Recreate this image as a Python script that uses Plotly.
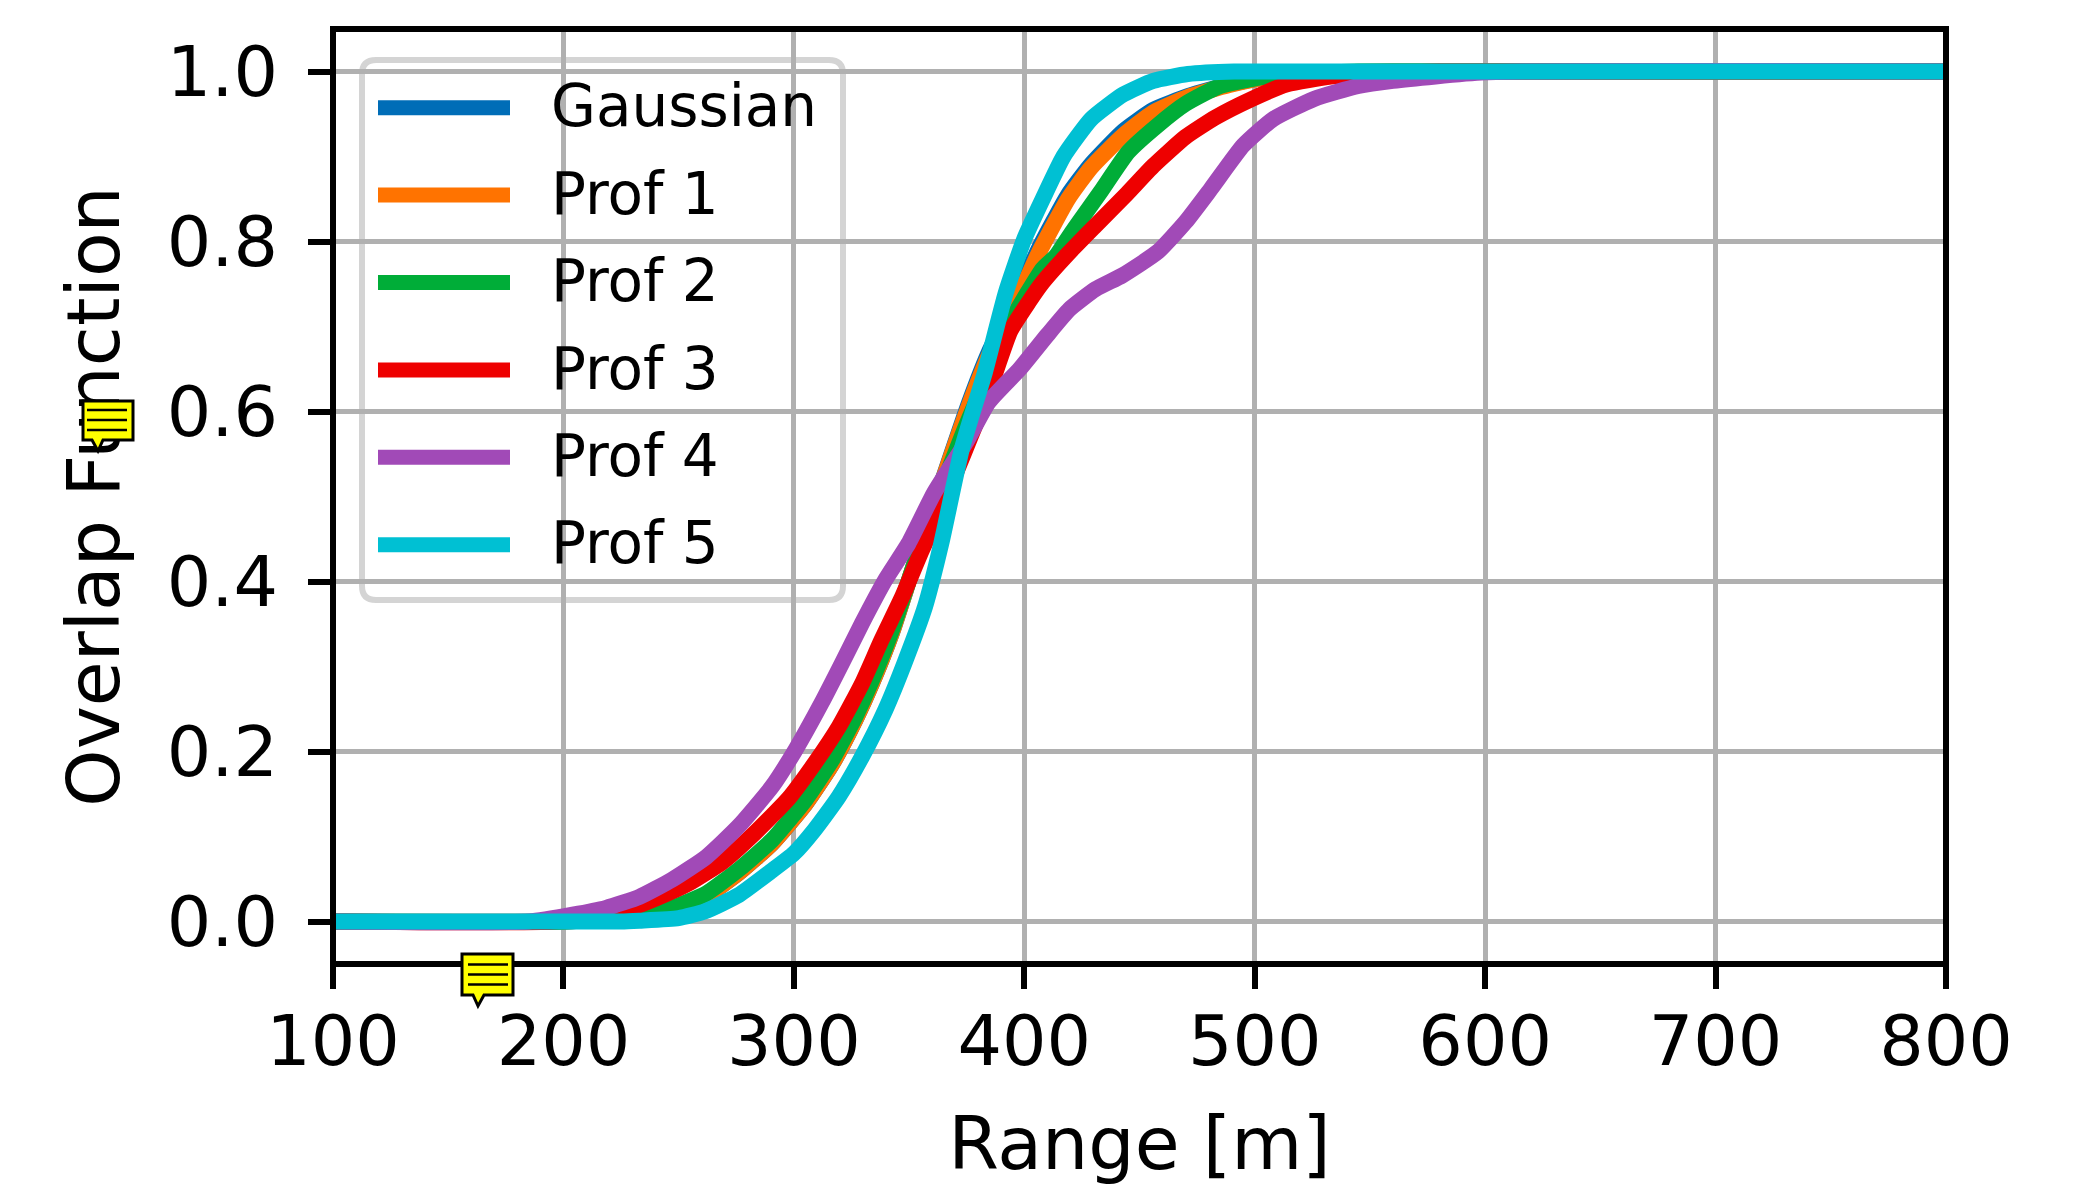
import plotly.graph_objects as go

W, H = 2087, 1188
L, R, T, B = 333, 1946, 29, 964

names = ["Gaussian", "Prof 1", "Prof 2", "Prof 3", "Prof 4", "Prof 5"]
colors = ["#006DB7", "#FF7300", "#00AD38", "#EE0000", "#A14AB7", "#00C0D3"]

x_gauss = [100,200,230,247,262,276,290.6,305,316.6,326.7,333.9,342.6,351,358.4,376,385,396,406,419,429,443,456,471,489,505,525,560,800]
y_gauss = [0,0,.004,.014,.03,.057,.092,.138,.185,.237,.28,.34,.41,.47,.61,.672,.73,.79,.855,.891,.93,.955,.971,.985,.993,.998,1,1]

x_prof1 = [100,200,230,247,262,276,290.6,305,316.6,326.7,333.9,342.6,351,358.4,376,385,396,406,419,429,443,456,471,489,505,525,560,800]
y_prof1 = [0,0,.004,.014,.03,.057,.092,.138,.185,.237,.28,.34,.41,.47,.607,.668,.725,.785,.85,.887,.925,.952,.97,.984,.993,.998,1,1]

x_prof2 = [100,200,230,247,262,276,290.6,305,316.6,326.7,333.9,342.6,351,358.4,375,385,394,408,413.5,418,423,433,445,458,470,485,503,518,545,800]
y_prof2 = [0,0,.005,.016,.033,.061,.096,.143,.19,.241,.284,.343,.41,.469,.585,.648,.705,.768,.782,.80,.82,.858,.905,.937,.962,.983,.993,.997,1,1]

x_prof3 = [100,195,223,240,254.5,269,283,297.8,309,319.5,329.6,338,347,355.6,363,384.5,394,402,408,419.5,431,444.5,456,470,483,499,514,533,549,580,800]
y_prof3 = [0,0,.01,.027,.045,.07,.104,.145,.186,.229,.28,.331,.382,.437,.48,.623,.695,.729,.752,.787,.819,.856,.889,.923,.946,.968,.985,.994,.997,1,1]

x_prof4 = [100,185,204,218.5,233,247,262,276,290.6,300.7,312,320.9,329.6,339.7,349.8,361,375,384.5,398,410,419.5,431,442.5,458,470,481,495,508,526,545,560,600,800]
y_prof4 = [0,0,.008,.016,.029,.049,.076,.112,.159,.202,.257,.304,.351,.402,.445,.505,.565,.611,.65,.69,.72,.744,.76,.788,.823,.862,.913,.944,.968,.983,.989,.999,1]

x_prof5 = [100,225,233,250,261.5,276,290,300,309,319.5,329.6,339.7,348,357,364,373,383,392,400,408,417,429,443,456,471,491,520,800]
y_prof5 = [0,0,.001,.004,.012,.031,.059,.08,.108,.147,.194,.249,.304,.371,.445,.557,.647,.74,.803,.85,.90,.944,.973,.989,.997,1,1,1]

xs = [x_gauss, x_prof1, x_prof2, x_prof3, x_prof4, x_prof5]
ys = [y_gauss, y_prof1, y_prof2, y_prof3, y_prof4, y_prof5]


def px(v):
    return (v - L) / (R - L)


def py(v):
    return (B - v) / (B - T)


fig = go.Figure()
for n, c, x, y in zip(names, colors, xs, ys):
    fig.add_trace(go.Scatter(x=x, y=y, name=n, mode="lines", legendgroup=n,
                             line=dict(color=c, width=16, shape="spline", smoothing=0.5)))

shapes = []
# rounded legend frame
x0, x1, y0, y1, r = 362, 843, 60, 600, 14
shapes.append(dict(
    type="path", layer="between", xref="paper", yref="paper",
    path=(f"M {px(x0+r)} {py(y0)} L {px(x1-r)} {py(y0)} Q {px(x1)} {py(y0)} {px(x1)} {py(y0+r)} "
          f"L {px(x1)} {py(y1-r)} Q {px(x1)} {py(y1)} {px(x1-r)} {py(y1)} "
          f"L {px(x0+r)} {py(y1)} Q {px(x0)} {py(y1)} {px(x0)} {py(y1-r)} "
          f"L {px(x0)} {py(y0+r)} Q {px(x0)} {py(y0)} {px(x0+r)} {py(y0)} Z"),
    fillcolor="rgba(255,255,255,0.8)", line=dict(color="rgba(204,204,204,0.85)", width=6)))
# frame of the axes, centred on the plot edge
shapes.append(dict(type="rect", layer="above", xref="paper", yref="paper",
                   x0=0, x1=1, y0=0, y1=1, line=dict(color="black", width=6)))


def icon(xl, xr, yt, yb, tl, tr, tx, ty, rows, lx0, lx1):
    shapes.append(dict(
        type="path", layer="above", xref="paper", yref="paper",
        path=(f"M {px(xl)} {py(yt)} L {px(xr)} {py(yt)} L {px(xr)} {py(yb)} L {px(tr)} {py(yb)} "
              f"L {px(tx)} {py(ty)} L {px(tl)} {py(yb)} L {px(xl)} {py(yb)} Z"),
        fillcolor="#FFFF00", line=dict(color="black", width=3)))
    for yy in rows:
        shapes.append(dict(type="line", layer="above", xref="paper", yref="paper",
                           x0=px(lx0), x1=px(lx1), y0=py(yy), y1=py(yy),
                           line=dict(color="black", width=2.5)))


icon(83, 133, 401, 440, 92, 103, 98, 451, [410, 420, 430], 87, 127)
icon(462, 513, 954, 995, 473, 484, 478, 1006, [964.5, 974.5, 984.5], 468, 508)

axis = dict(showgrid=True, gridcolor="#b0b0b0", gridwidth=5, zeroline=False,
            showline=False, ticks="outside", ticklen=24, tickwidth=5.5, tickcolor="black",
            tickfont=dict(size=70, color="black"), automargin=False)

fig.update_layout(
    width=W, height=H, autosize=False,
    margin=dict(l=L, r=W - R, t=T, b=H - B, pad=0),
    paper_bgcolor="white", plot_bgcolor="white",
    font=dict(family="DejaVu Sans", color="black"),
    xaxis=dict(axis, range=[100, 800], tick0=100, dtick=100, ticklabelstandoff=-8,
               title=dict(text="Range [m]", font=dict(size=73), standoff=36)),
    yaxis=dict(axis, range=[-0.05, 1.05], tick0=0, dtick=0.2, tickformat=".1f", ticklabelstandoff=16,
               title=dict(text="Overlap Function", font=dict(size=73), standoff=23)),
    legend=dict(x=px(372), y=py(59.5), xanchor="left", yanchor="top",
                bgcolor="rgba(0,0,0,0)", borderwidth=0, itemwidth=169,
                tracegroupgap=9, font=dict(size=58), itemclick=False, itemdoubleclick=False),
    shapes=shapes,
)

fig.write_html("out.html", config=dict(displayModeBar=False), post_script=(
    "document.body.style.margin='0';"
    "var g=document.querySelector('.main-svg .infolayer');"
    "var a=document.querySelector('.main-svg .layer-above');"
    "if(g&&a){g.parentNode.insertBefore(a,g.nextSibling);}"
    "document.querySelectorAll('.legendlines path').forEach(function(p){p.setAttribute('d','M6,4h132');p.style.strokeWidth='15px';});"
))
